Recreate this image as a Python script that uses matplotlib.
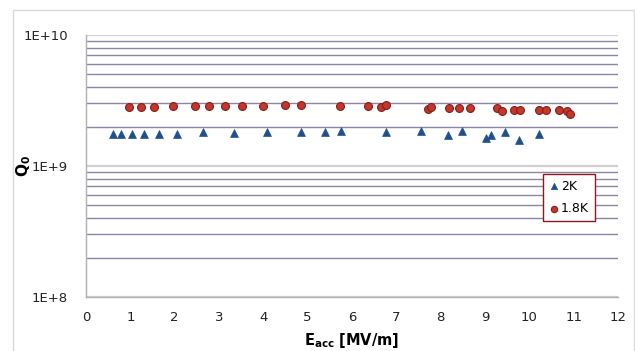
import matplotlib
matplotlib.use("Agg")
import matplotlib.pyplot as plt
from matplotlib.patches import Rectangle

# 2K data (triangles)
e_2k = [0.62, 0.80, 1.03, 1.30, 1.64, 2.05, 2.63, 3.34, 4.09, 4.85, 5.40, 5.76,
        6.76, 7.56, 8.16, 8.49, 9.02, 9.13, 9.45, 9.77, 10.22]
q_2k = [1.77e9, 1.75e9, 1.77e9, 1.75e9, 1.77e9, 1.77e9, 1.81e9, 1.79e9, 1.82e9, 1.83e9,
        1.83e9, 1.86e9, 1.83e9, 1.84e9, 1.71e9, 1.86e9, 1.64e9, 1.71e9, 1.82e9, 1.58e9, 1.74e9]

# 1.8K data (circles)
e_18k = [0.96, 1.23, 1.54, 1.96, 2.46, 2.78, 3.14, 3.53, 3.99, 4.49, 4.85,
         5.72, 6.35, 6.65, 6.77, 7.72, 7.78, 8.18, 8.42, 8.67, 9.27, 9.38,
         9.65, 9.78, 10.21, 10.38, 10.66, 10.85, 10.92]
q_18k = [2.82e9, 2.82e9, 2.82e9, 2.89e9, 2.86e9, 2.86e9, 2.89e9, 2.86e9, 2.89e9, 2.94e9, 2.94e9,
         2.89e9, 2.89e9, 2.84e9, 2.91e9, 2.72e9, 2.84e9, 2.76e9, 2.76e9, 2.76e9, 2.77e9, 2.65e9,
         2.68e9, 2.68e9, 2.66e9, 2.66e9, 2.69e9, 2.62e9, 2.50e9]

x_ticks = list(range(0, 13))
y_ticks = [1e8, 1e9, 1e10]
y_tick_labels = ["1E+8", "1E+9", "1E+10"]

fig = plt.figure(figsize=(6.35, 3.51), dpi=100)
fig.patches.append(Rectangle((13 / 635, -0.05), (634 - 13) / 635, 1 - 10 / 351 + 0.05,
                             transform=fig.transFigure, fill=False,
                             edgecolor="#d9d9d9", linewidth=1.0))
ax = fig.add_axes([86 / 635, 1 - 297 / 351, (618 - 86) / 635, (297 - 35) / 351])

ax.set_yscale("log")
ax.set_xlim(0, 12)
ax.set_ylim(1e8, 1e10)

ax.scatter(e_2k, q_2k, marker="^", s=32, color="#1f4f8f", edgecolors="#1f4f8f",
           linewidths=0.5, label="2K", zorder=3)
ax.scatter(e_18k, q_18k, marker="o", s=32, color="#c0392b", edgecolors="#8b1a1a",
           linewidths=0.8, label="1.8K", zorder=3)

ax.set_xticks(x_ticks)
ax.set_yticks(y_ticks)
ax.set_yticklabels(y_tick_labels)
ax.yaxis.set_minor_formatter(plt.NullFormatter())
ax.tick_params(axis="both", which="both", length=0, labelsize=9.5, colors="#222222")
ax.tick_params(axis="x", pad=10)
ax.tick_params(axis="y", pad=13)

ax.yaxis.grid(True, which="major", color="#d0d0d0", linewidth=1.6)
ax.yaxis.grid(True, which="minor", color="#8a87a6", linewidth=1.0)
ax.xaxis.grid(False)
ax.set_axisbelow(True)

for s in ["top", "right"]:
    ax.spines[s].set_visible(False)
for s in ["left", "bottom"]:
    ax.spines[s].set_color("#b0b0b0")
    ax.spines[s].set_linewidth(1.0)

ax.set_ylabel("Q$_\\mathbf{0}$", fontsize=11, fontweight="bold")
ax.yaxis.set_label_coords((33 - 86) / 532, 0.5)
ax.set_xlabel("E$_\\mathbf{acc}$ [MV/m]", fontsize=10.5, fontweight="bold")
ax.xaxis.set_label_coords(0.5, -(331 - 297) / 262)

leg = ax.legend(loc="upper left", bbox_to_anchor=((543 - 86) / 532, (297 - 174) / 262),
                frameon=True, fancybox=False, fontsize=9, handletextpad=0.1,
                borderpad=0.45, labelspacing=0.75, handlelength=0.9, borderaxespad=0,
                markerscale=0.8)
leg.get_frame().set_edgecolor("#8b1a1a")
leg.get_frame().set_linewidth(1.0)
leg.get_frame().set_facecolor("white")
leg.get_frame().set_alpha(1)

fig.savefig("out.png", dpi=100)
